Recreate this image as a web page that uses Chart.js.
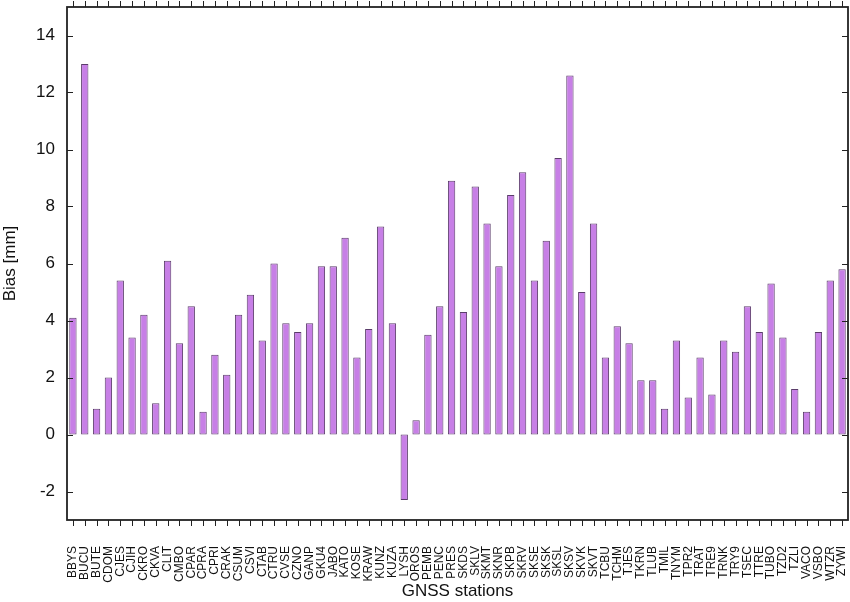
<!DOCTYPE html>
<html><head><meta charset="utf-8">
<script src="https://cdn.jsdelivr.net/npm/chart.js@4"></script>
<style>html,body{margin:0;padding:0;background:#fff}canvas{display:block}</style>
</head><body>
<canvas id="c" width="850" height="602"></canvas>
<script>
const stations = ["BBYS","BUCU","BUTE","CDOM","CJES","CJIH","CKRO","CKVA","CLIT","CMBO","CPAR","CPRA","CPRI","CRAK","CSUM","CSVI","CTAB","CTRU","CVSE","CZNO","GANP","GKU4","JABO","KATO","KOSE","KRAW","KUNZ","KUZA","LYSH","OROS","PEMB","PENC","PRES","SKDS","SKLV","SKMT","SKNR","SKPB","SKRV","SKSE","SKSK","SKSL","SKSV","SKVK","SKVT","TCBU","TCHM","TJES","TKRN","TLUB","TMIL","TNYM","TPR2","TRAT","TRE9","TRNK","TRY9","TSEC","TTRE","TUBO","TZD2","TZLI","VACO","VSBO","WTZR","ZYWI"];
const bias = [4.1,13.0,0.9,2.0,5.4,3.4,4.2,1.1,6.1,3.2,4.5,0.8,2.8,2.1,4.2,4.9,3.3,6.0,3.9,3.6,3.9,5.9,5.9,6.9,2.7,3.7,7.3,3.9,-2.3,0.5,3.5,4.5,8.9,4.3,8.7,7.4,5.9,8.4,9.2,5.4,6.8,9.7,12.6,5.0,7.4,2.7,3.8,3.2,1.9,1.9,0.9,3.3,1.3,2.7,1.4,3.3,2.9,4.5,3.6,5.3,3.4,1.6,0.8,3.6,5.4,5.8];
const yTicks = [-2,0,2,4,6,8,10,12,14];
const yMin = -3, yMax = 15;

const frame = {
  id: 'frame',
  afterDraw(chart) {
    const ctx = chart.ctx, a = chart.chartArea, x = chart.scales.x, y = chart.scales.y;
    ctx.save();
    ctx.strokeStyle = '#222';
    ctx.lineWidth = 1;
    yTicks.forEach(v => {
      const py = Math.round(y.getPixelForValue(v)) + 0.5;
      ctx.beginPath();
      ctx.moveTo(a.left, py); ctx.lineTo(a.left + 6, py);
      ctx.moveTo(a.right, py); ctx.lineTo(a.right - 6, py);
      ctx.stroke();
    });
    stations.forEach((s, i) => {
      const px = Math.round(x.getPixelForValue(i)) + 0.5;
      ctx.beginPath();
      ctx.moveTo(px, a.bottom); ctx.lineTo(px, a.bottom + 6);
      ctx.moveTo(px, a.top); ctx.lineTo(px, a.top - 6);
      ctx.stroke();
    });
    ctx.lineWidth = 1.8;
    ctx.strokeRect(a.left, a.top, a.right - a.left, a.bottom - a.top);
    ctx.restore();
  }
};

function zeroPad(s) { s.paddingTop = 0; s.paddingBottom = 0; s.paddingLeft = 0; s.paddingRight = 0; }

new Chart(document.getElementById('c'), {
  type: 'bar',
  data: {
    labels: stations,
    datasets: [{
      data: bias,
      backgroundColor: '#c77fe6',
      borderColor: '#5b3d6b',
      borderWidth: 1,
      borderSkipped: false,
      barPercentage: 0.62,
      categoryPercentage: 1.0
    }]
  },
  options: {
    responsive: false,
    animation: false,
    devicePixelRatio: 1,
    layout: { padding: { top: 7, right: 2, left: 0, bottom: 0 } },
    plugins: { legend: { display: false }, tooltip: { enabled: false } },
    scales: {
      x: {
        grid: { display: false },
        border: { display: false },
        ticks: {
          color: '#111',
          font: { family: 'Liberation Sans', size: 12 },
          maxRotation: 90, minRotation: 90,
          autoSkip: false,
          padding: 18
        },
        title: {
          display: true, text: 'GNSS stations', color: '#111',
          font: { family: 'Liberation Sans', size: 17 },
          padding: { top: 0, bottom: 0 }
        },
        afterFit(s) { s.height = 82; zeroPad(s); }
      },
      y: {
        min: yMin, max: yMax,
        grid: { display: false },
        border: { display: false },
        afterBuildTicks(s) { s.ticks = yTicks.map(v => ({ value: v })); },
        ticks: {
          color: '#111',
          font: { family: 'Liberation Sans', size: 17 },
          padding: 4
        },
        title: {
          display: true, text: 'Bias [mm]', color: '#111',
          font: { family: 'Liberation Sans', size: 17 },
          padding: { top: 0, bottom: 2 }
        },
        afterFit(s) { s.width = 67; zeroPad(s); }
      }
    }
  },
  plugins: [frame]
});
</script>
</body></html>
